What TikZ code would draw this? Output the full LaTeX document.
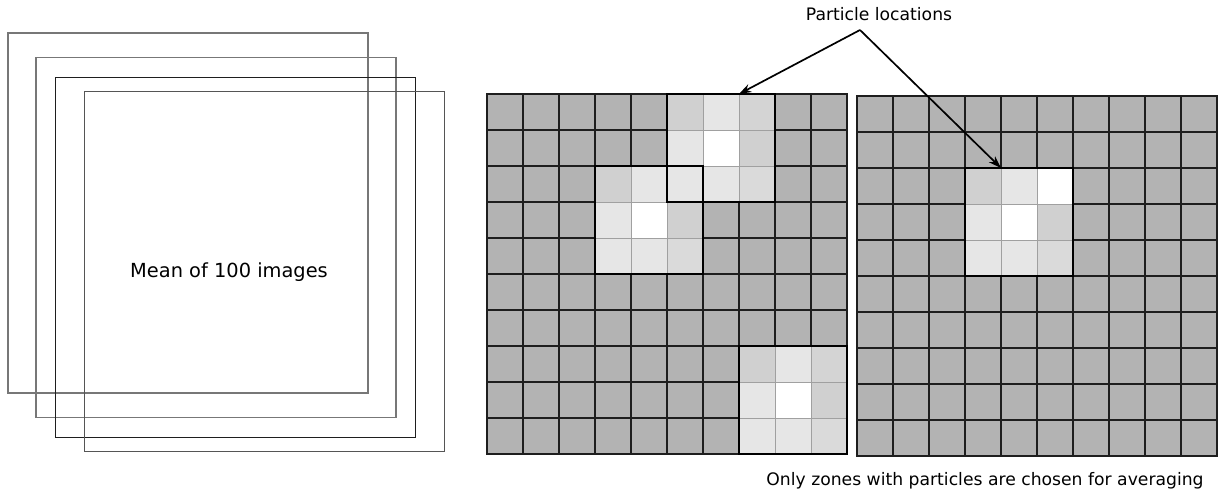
\documentclass[tikz,border=0pt]{standalone}
\usepackage{fontspec}
\setmainfont{DejaVu Sans}
\usetikzlibrary{arrows.meta}
\definecolor{cellbg}{HTML}{B3B3B3}
\definecolor{cellline}{HTML}{1E1E1E}
\definecolor{lightline}{HTML}{A0A0A0}
\definecolor{sD0}{HTML}{D0D0D0}
\definecolor{sD4}{HTML}{D4D4D4}
\definecolor{sDA}{HTML}{DADADA}
\definecolor{sE6}{HTML}{E6E6E6}
\definecolor{sFF}{HTML}{FFFFFF}
\definecolor{sqgray}{HTML}{777777}
\definecolor{sqdark}{HTML}{555555}
\newcommand\setshade[4]{\expandafter\gdef\csname sh-#1-#2-#3\endcsname{#4}}
% grid 1, patch A (rows 0-2, cols 5-7)
\setshade{g1}{0}{5}{sD0}\setshade{g1}{0}{6}{sE6}\setshade{g1}{0}{7}{sD4}
\setshade{g1}{1}{5}{sE6}\setshade{g1}{1}{6}{sFF}\setshade{g1}{1}{7}{sD0}
\setshade{g1}{2}{5}{sE6}\setshade{g1}{2}{6}{sE6}\setshade{g1}{2}{7}{sDA}
% grid 1, patch B (rows 2-4, cols 3-5)
\setshade{g1}{2}{3}{sD0}\setshade{g1}{2}{4}{sE6}
\setshade{g1}{3}{3}{sE6}\setshade{g1}{3}{4}{sFF}\setshade{g1}{3}{5}{sD0}
\setshade{g1}{4}{3}{sE6}\setshade{g1}{4}{4}{sE6}\setshade{g1}{4}{5}{sDA}
% grid 1, patch C (rows 7-9, cols 7-9)
\setshade{g1}{7}{7}{sD0}\setshade{g1}{7}{8}{sE6}\setshade{g1}{7}{9}{sD4}
\setshade{g1}{8}{7}{sE6}\setshade{g1}{8}{8}{sFF}\setshade{g1}{8}{9}{sD0}
\setshade{g1}{9}{7}{sE6}\setshade{g1}{9}{8}{sE6}\setshade{g1}{9}{9}{sDA}
% grid 2 (rows 2-4, cols 3-5)
\setshade{g2}{2}{3}{sD0}\setshade{g2}{2}{4}{sE6}\setshade{g2}{2}{5}{sFF}
\setshade{g2}{3}{3}{sE6}\setshade{g2}{3}{4}{sFF}\setshade{g2}{3}{5}{sD0}
\setshade{g2}{4}{3}{sE6}\setshade{g2}{4}{4}{sE6}\setshade{g2}{4}{5}{sDA}
\begin{document}
\begin{tikzpicture}[x=1pt,y=-1pt,
  cell/.style={draw=cellline, line width=1.1pt, minimum size=36pt, inner sep=0pt, outer sep=0pt, fill=cellbg},
  lcell/.style={draw=lightline, line width=0.8pt, minimum size=36pt, inner sep=0pt, outer sep=0pt},
  patchline/.style={draw=black, line width=1.8pt},
  sq/.style={line width=1.2pt, minimum size=360pt, inner sep=0pt, outer sep=0pt},
  arr/.style={line width=1.7pt, -{Stealth[length=12.5pt,width=8.5pt]}},
  lbl/.style={inner sep=0pt, anchor=base, font=\fontsize{17.2}{20}\selectfont}]
\useasboundingbox (0,0) rectangle (1223,494);
% stacked images
\node[sq, draw=sqgray] (sq1) at (188,213) {};
\node[sq, draw=sqgray] (sq2) at (216,237.2) {};
\node[sq, draw=cellline] (sq3) at (235.3,257.2) {};
\node[sq, draw=sqdark] (sq4) at (264.5,271.7) {};
\node[inner sep=0pt, anchor=base, font=\fontsize{19.4}{23}\selectfont] (mean) at (229,277) {Mean of 100 images};
% grids
\foreach \g/\ox/\oy in {g1/487/94, g2/857/96}{
  \foreach \r in {0,...,9}{
    \foreach \c in {0,...,9}{
      \ifcsname sh-\g-\r-\c\endcsname
        \edef\thisfill{\csname sh-\g-\r-\c\endcsname}
        \node[lcell, fill=\thisfill] (\g-\r-\c) at (\ox+36*\c+18, \oy+36*\r+18) {};
      \else
        \node[cell] (\g-\r-\c) at (\ox+36*\c+18, \oy+36*\r+18) {};
      \fi
    }
  }
}
% patch outlines
\draw[patchline] (g1-0-5.north west) rectangle (g1-2-7.south east);
\draw[patchline] (g1-2-3.north west) rectangle (g1-4-5.south east);
\draw[patchline] (g1-7-7.north west) rectangle (g1-9-9.south east);
\draw[patchline] (g2-2-3.north west) rectangle (g2-4-5.south east);
% labels and arrows
\node[lbl] (pl) at (879,21) {Particle locations};
\coordinate (fork) at (860,30);
\draw[arr] (fork) -- (g1-0-7.north west);
\draw[arr] (fork) -- (g2-2-4.north west);
\node[lbl] (note) at (985,485.5) {Only zones with particles are chosen for averaging};
\end{tikzpicture}
\end{document}
